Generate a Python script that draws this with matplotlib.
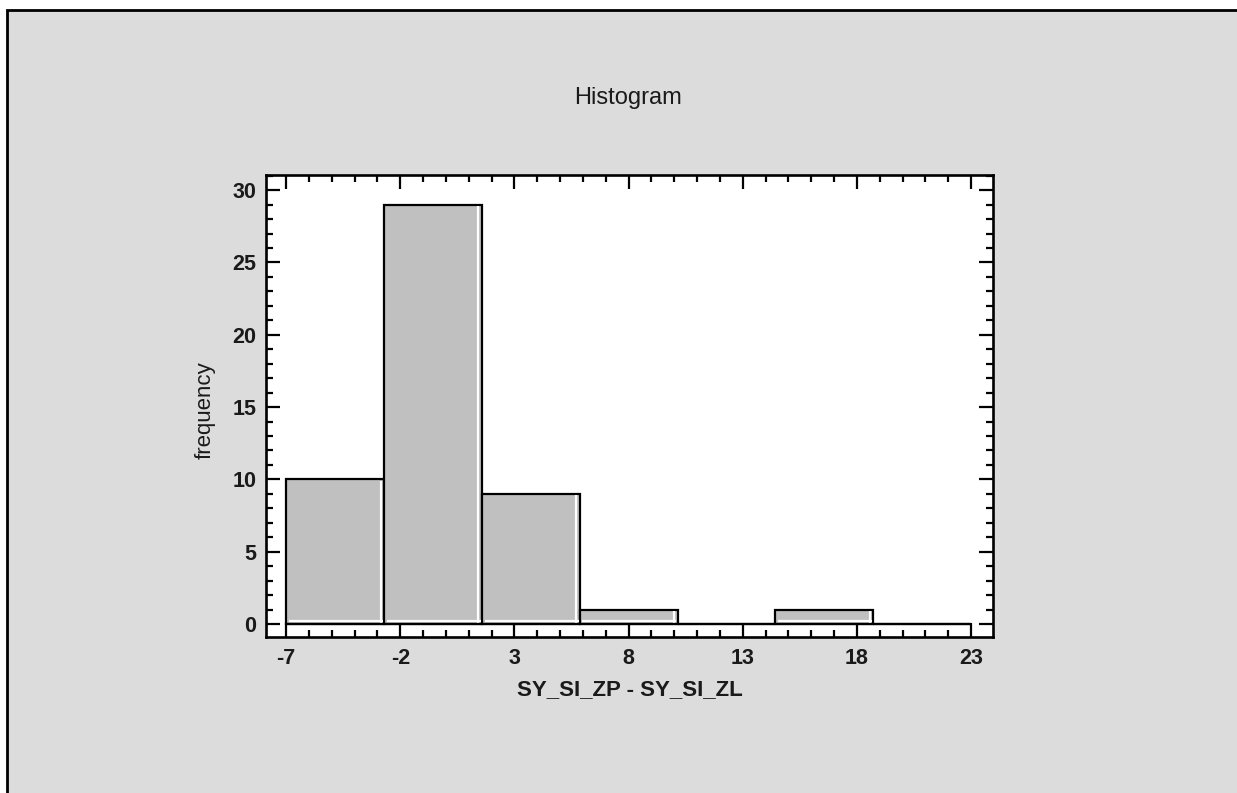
import matplotlib
matplotlib.use("Agg")
import matplotlib.pyplot as plt
from matplotlib.patches import Rectangle
from matplotlib.ticker import MultipleLocator, FixedLocator
from matplotlib import transforms

# ---- data ----
bin_edges = [-7.0, -2.714, 1.571, 5.857, 10.143, 14.429, 18.714, 23.0]
counts = [10, 29, 9, 1, 0, 1, 0]
x_ticks = [-7, -2, 3, 8, 13, 18, 23]
y_ticks = [0, 5, 10, 15, 20, 25, 30]
title = "Histogram"
xlabel = "SY_SI_ZP - SY_SI_ZL"
ylabel = "frequency"

W, H = 1237, 793
fig = plt.figure(figsize=(W / 100, H / 100), dpi=100, facecolor="white")

# outer panel with border
bg = Rectangle((7.5 / W, -0.1), 1.2, (H - 10.5) / H + 0.1, transform=fig.transFigure,
               facecolor="#DCDCDC", edgecolor="black", linewidth=2.0, clip_on=False, zorder=-10)
fig.patches.append(bg)

ax = fig.add_axes([266 / W, (H - 637) / H, (993 - 266) / W, (637 - 175) / H])
ax.set_zorder(5)
ax.set_facecolor("white")
ax.set_xlim(-7.88, 23.96)
ax.set_ylim(-0.9, 31.05)

font = ["Liberation Sans", "DejaVu Sans"]
tc = "#1a1a1a"

lefts = bin_edges[:-1]
widths = [bin_edges[i + 1] - bin_edges[i] for i in range(len(counts))]
ax.bar(lefts, counts, width=widths, align="edge", color="#C0C0C0",
       edgecolor="black", linewidth=1.6, zorder=2)

# white bevel highlights inside bars
off_up = transforms.offset_copy(ax.transData, fig=fig, x=0, y=2.2, units="points")
off_left = transforms.offset_copy(ax.transData, fig=fig, x=-2.4, y=0, units="points")
for l, w, c in zip(lefts, widths, counts):
    if c > 0:
        ax.plot([l + 0.12, l + w - 0.05], [0, 0], color="white", lw=1.6,
                transform=off_up, zorder=3, solid_capstyle="butt")
        ax.plot([l + w, l + w], [0.05, c - 0.1], color="white", lw=1.6,
                transform=off_left, zorder=3, solid_capstyle="butt")

# baseline
ax.plot([bin_edges[0], bin_edges[-1]], [0, 0], color="black", lw=1.6, zorder=4,
        solid_capstyle="butt")

for s in ax.spines.values():
    s.set_linewidth(1.9)
    s.set_color("black")

ax.xaxis.set_major_locator(FixedLocator(x_ticks))
ax.xaxis.set_minor_locator(MultipleLocator(1))
ax.yaxis.set_major_locator(FixedLocator(y_ticks))
ax.yaxis.set_minor_locator(MultipleLocator(1))
ax.tick_params(which="both", direction="in", top=True, right=True, color="black", width=1.6)
ax.tick_params(which="major", length=10)
ax.tick_params(axis="x", which="major", pad=8)
ax.tick_params(axis="y", which="major", pad=7)
ax.tick_params(which="minor", length=5)
ax.set_xticklabels([str(t) for t in x_ticks])
ax.set_yticklabels([str(t) for t in y_ticks])
for lab in ax.get_xticklabels() + ax.get_yticklabels():
    lab.set_fontfamily(font)
    lab.set_fontweight("bold")
    lab.set_fontsize(15.5)
    lab.set_color(tc)

fig.text(630 / W, 1 - 690 / H, xlabel, ha="center", va="center", fontfamily=font,
         fontweight="bold", fontsize=16, color=tc)
fig.text(205 / W, 1 - 410 / H, ylabel, ha="center", va="center", rotation=90,
         fontfamily=font, fontsize=16, color=tc)
fig.text(628 / W, 1 - 98 / H, title, ha="center", va="center", fontfamily=font,
         fontsize=17, color=tc)

fig.savefig("out.png", dpi=100, facecolor="white")
